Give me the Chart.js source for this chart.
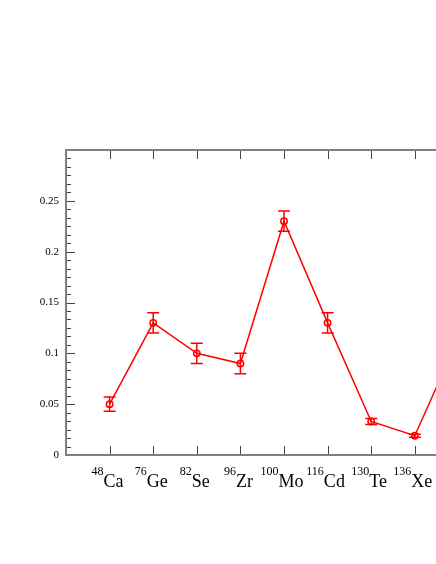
<!DOCTYPE html>
<html>
<head>
<meta charset="utf-8">
<script src="https://cdn.jsdelivr.net/npm/chart.js@4.4.1/dist/chart.umd.min.js"></script>
<style>
  html, body { margin: 0; padding: 0; background: #fff; overflow: hidden; }
  #wrap { width: 600px; height: 564px; }
</style>
</head>
<body>
<div id="wrap"><canvas id="chart" width="600" height="564"></canvas></div>
<script>
  // isotopes along the x axis
  var masses = [48, 76, 82, 96, 100, 116, 130, 136, 150];
  var elements = ['Ca', 'Ge', 'Se', 'Zr', 'Mo', 'Cd', 'Te', 'Xe', 'Nd'];
  // values and symmetric error bars
  var values = [0.05, 0.13, 0.10, 0.09, 0.23, 0.13, 0.033, 0.019, 0.115];
  var errors = [0.007, 0.01, 0.01, 0.01, 0.01, 0.01, 0.003, 0.0015, 0.01];
  // y axis
  var yMin = 0, yMax = 0.3, yStep = 0.05, yMinorPerMajor = 6;
  var xMin = 0, xMax = masses.length + 1;

  var serif = '"Liberation Serif", "Times New Roman", serif';

  var points = values.map(function (v, i) { return { x: i + 1, y: v }; });

  // frame with inward ticks, xmgrace style
  var framePlugin = {
    id: 'frame',
    beforeDatasetsDraw: function (chart) {
      var ctx = chart.ctx, a = chart.chartArea;
      var xs = chart.scales.x, ys = chart.scales.y;
      ctx.save();
      ctx.strokeStyle = '#444';
      ctx.lineWidth = 1;
      ctx.beginPath();
      for (var i = 1; i < xMax; i++) {
        var px = Math.round(xs.getPixelForValue(i)) + 0.5;
        ctx.moveTo(px, a.bottom); ctx.lineTo(px, a.bottom - 9);
        ctx.moveTo(px, a.top); ctx.lineTo(px, a.top + 9);
      }
      var n = Math.round((yMax - yMin) / yStep * yMinorPerMajor);
      for (var k = 0; k <= n; k++) {
        var v = yMin + k * yStep / yMinorPerMajor;
        var py = Math.round(ys.getPixelForValue(v)) + 0.5;
        var len = (k % yMinorPerMajor === 0) ? 9 : 5;
        ctx.moveTo(a.left, py); ctx.lineTo(a.left + len, py);
        ctx.moveTo(a.right, py); ctx.lineTo(a.right - len, py);
      }
      ctx.stroke();
      ctx.strokeStyle = '#808080';
      ctx.lineWidth = 2;
      ctx.strokeRect(a.left, a.top, a.right - a.left, a.bottom - a.top);
      ctx.restore();
    },
    afterDraw: function (chart) {
      // x labels: mass number as superscript before the symbol
      var ctx = chart.ctx, a = chart.chartArea, xs = chart.scales.x;
      ctx.save();
      ctx.fillStyle = '#000';
      ctx.textBaseline = 'alphabetic';
      ctx.textAlign = 'left';
      for (var i = 0; i < elements.length; i++) {
        var sup = String(masses[i]), el = elements[i];
        ctx.font = '12px ' + serif;
        var ws = ctx.measureText(sup).width;
        ctx.font = '18px ' + serif;
        var we = ctx.measureText(el).width;
        var cx = xs.getPixelForValue(i + 1);
        var x0 = cx - (ws + we) / 2 - 2;
        ctx.font = '12px ' + serif;
        ctx.fillText(sup, x0, a.bottom + 20);
        ctx.font = '18px ' + serif;
        ctx.fillText(el, x0 + ws, a.bottom + 32);
      }
      ctx.restore();
    }
  };

  var errorBarPlugin = {
    id: 'errorBars',
    afterDatasetsDraw: function (chart) {
      var ctx = chart.ctx, xs = chart.scales.x, ys = chart.scales.y;
      ctx.save();
      ctx.strokeStyle = '#ff0000';
      ctx.lineWidth = 1.5;
      ctx.beginPath();
      for (var i = 0; i < values.length; i++) {
        var px = xs.getPixelForValue(i + 1);
        var top = ys.getPixelForValue(values[i] + errors[i]);
        var bot = ys.getPixelForValue(values[i] - errors[i]);
        ctx.moveTo(px, top); ctx.lineTo(px, bot);
        ctx.moveTo(px - 6, top); ctx.lineTo(px + 6, top);
        ctx.moveTo(px - 6, bot); ctx.lineTo(px + 6, bot);
      }
      ctx.stroke();
      ctx.restore();
    }
  };

  new Chart(document.getElementById('chart'), {
    type: 'line',
    data: {
      datasets: [{
        data: points,
        borderColor: '#ff0000',
        borderWidth: 1.5,
        pointStyle: 'circle',
        pointRadius: 3.2,
        pointBorderWidth: 1.5,
        pointBorderColor: '#ff0000',
        pointBackgroundColor: 'rgba(0,0,0,0)',
        tension: 0,
        fill: false
      }]
    },
    options: {
      responsive: false,
      animation: false,
      layout: { padding: { left: 0, top: 150, right: 98, bottom: 109 } },
      plugins: { legend: { display: false }, tooltip: { enabled: false } },
      scales: {
        x: { type: 'linear', min: xMin, max: xMax, display: false },
        y: {
          type: 'linear',
          min: yMin,
          max: yMax,
          grid: { display: false, drawTicks: false },
          border: { display: false },
          afterFit: function (scale) { scale.width = 66; },
          ticks: {
            stepSize: yStep,
            padding: 7,
            color: '#000',
            font: { family: serif, size: 11 },
            callback: function (v) {
              var r = Math.round(v * 100) / 100;
              if (r >= yMax) return '';
              return String(r);
            }
          }
        }
      }
    },
    plugins: [framePlugin, errorBarPlugin]
  });
</script>
</body>
</html>
